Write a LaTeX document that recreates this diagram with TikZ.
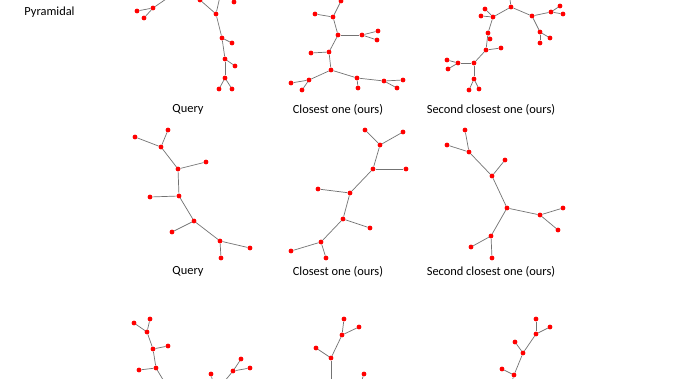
\documentclass[tikz,border=0pt]{standalone}
\usepackage{fontspec}
\setmainfont{Carlito}
\begin{document}
\begin{tikzpicture}[x=1pt,y=-1pt,
  pt/.style={circle,fill=red,draw=none,inner sep=0pt,minimum size=4.8pt},
  edge/.style={draw=black!55,line width=0.7pt},
  lbl/.style={font=\fontsize{12.4}{14}\selectfont,inner sep=0pt,anchor=center}]
\useasboundingbox[fill=white] (0,0) rectangle (677,379);
\clip (0,0) rectangle (677,379);
% labels
\node[lbl] (pyr) at (49.5,12) {Pyramidal};
\node[lbl] (lq1) at (188,109.5) {Query};
\node[lbl] (lc1) at (338,109.5) {Closest one (ours)};
\node[lbl] (ls1) at (491,109.5) {Second closest one (ours)};
\node[lbl] (lq2) at (188,271.5) {Query};
\node[lbl] (lc2) at (338,271.5) {Closest one (ours)};
\node[lbl] (ls2) at (491,271.5) {Second closest one (ours)};
% nodes
\foreach \n/\x/\y in {
 a1/137/11, a2/153/8, a3/144/18, a4/200/0, a5/234/2, a6/216/14, a7/222/38, a8/232/43, a9/225/59, a10/235/66, a11/225/78, a12/219/89, a13/232/89,
 b1/341/1, b2/315/14, b3/333/17, b4/338/35, b5/362/35, b6/378/31, b7/377/40, b8/311/53, b9/329/52, b10/331/70, b11/309/80, b12/291/83, b13/302/90, b14/357/78, b15/358/88, b16/384/81, b17/403/80, b18/397/88,
 c1/511/7, c2/485/9, c3/481/16, c4/493/17, c5/532/16, c6/551/12, c7/560/6, c8/563/14, c9/540/32, c10/550/38, c11/540/43, c12/488/33, c13/490/39, c14/486/50, c15/501/48, c16/474/63, c17/458/63, c18/447/60, c19/448/69, c20/474/79, c21/469/90, c22/479/89,
 d1/168/130, d2/135/137, d3/161/147, d4/178/169, d5/206/162, d6/179/196, d7/150/197, d8/194/221, d9/172/232, d10/220/241, d11/250/248, d12/221/258,
 e1/365/130, e2/403/132, e3/380/145, e4/373/169, e5/406/169, e6/350/193, e7/318/189, e8/343/219, e9/370/228, e10/321/242, e11/291/251, e12/326/258,
 f1/465/130, f2/447/145, f3/469/152, f4/505/160, f5/492/176, f6/507/208, f7/540/215, f8/563/208, f9/558/230, f10/491/236, f11/471/247, f12/492/258,
 g1/150/319, g2/134/323, g3/147/332, g4/153/349, g5/168/346, g6/156/368, g7/139/370, g8/241/359, g9/250/368, g10/233/371, g11/211/374,
 h1/344/319, h2/359/327, h3/342/335, h4/316/348, h5/331/358, h6/364/374,
 i1/536/319, i2/550/327, i3/536/334, i4/515/342, i5/523/353, i6/502/369, i7/514/375}
 \node[pt] (\n) at (\x,\y) {};
% off-canvas ends
\coordinate (ta1) at (172,-5);
\coordinate (ta2) at (221,-8);
\coordinate (tc1) at (509,-8);
\coordinate (bg1) at (168,388);
\coordinate (bg2) at (219,388);
\coordinate (bg3) at (214,388);
\coordinate (bh1) at (331,388);
\coordinate (bh2) at (359,388);
\coordinate (bi1) at (510,388);
% edges
\foreach \p/\q in {
 a1/a2, a3/a2, a2/ta1, a4/a6, a6/ta2, a6/a7, a7/a8, a7/a9, a9/a10, a9/a11, a11/a12, a11/a13,
 b1/b3, b2/b3, b3/b4, b4/b5, b5/b6, b5/b7, b4/b9, b8/b9, b9/b10, b10/b11, b11/b12, b11/b13, b10/b14, b14/b15, b14/b16, b16/b17, b16/b18,
 c1/tc1, c1/c4, c4/c2, c4/c3, c1/c5, c5/c6, c6/c7, c6/c8, c5/c9, c9/c10, c9/c11, c4/c12, c12/c13, c12/c14, c14/c15, c14/c16, c16/c17, c17/c18, c17/c19, c16/c20, c20/c21, c20/c22,
 d1/d3, d2/d3, d3/d4, d4/d5, d4/d6, d6/d7, d6/d8, d8/d9, d8/d10, d10/d11, d10/d12,
 e1/e3, e2/e3, e3/e4, e4/e5, e4/e6, e6/e7, e6/e8, e8/e9, e8/e10, e10/e11, e10/e12,
 f1/f3, f2/f3, f3/f5, f5/f4, f5/f6, f6/f7, f7/f8, f7/f9, f6/f10, f10/f11, f10/f12,
 g1/g3, g2/g3, g3/g4, g4/g5, g4/g6, g6/g7, g6/bg1, g8/g10, g9/g10, g10/bg2, g11/bg3,
 h1/h3, h2/h3, h3/h5, h4/h5, h5/bh1, h6/bh2,
 i1/i3, i2/i3, i3/i5, i4/i5, i5/i7, i6/i7, i7/bi1}
 \draw[edge] (\p) -- (\q);
\end{tikzpicture}
\end{document}
